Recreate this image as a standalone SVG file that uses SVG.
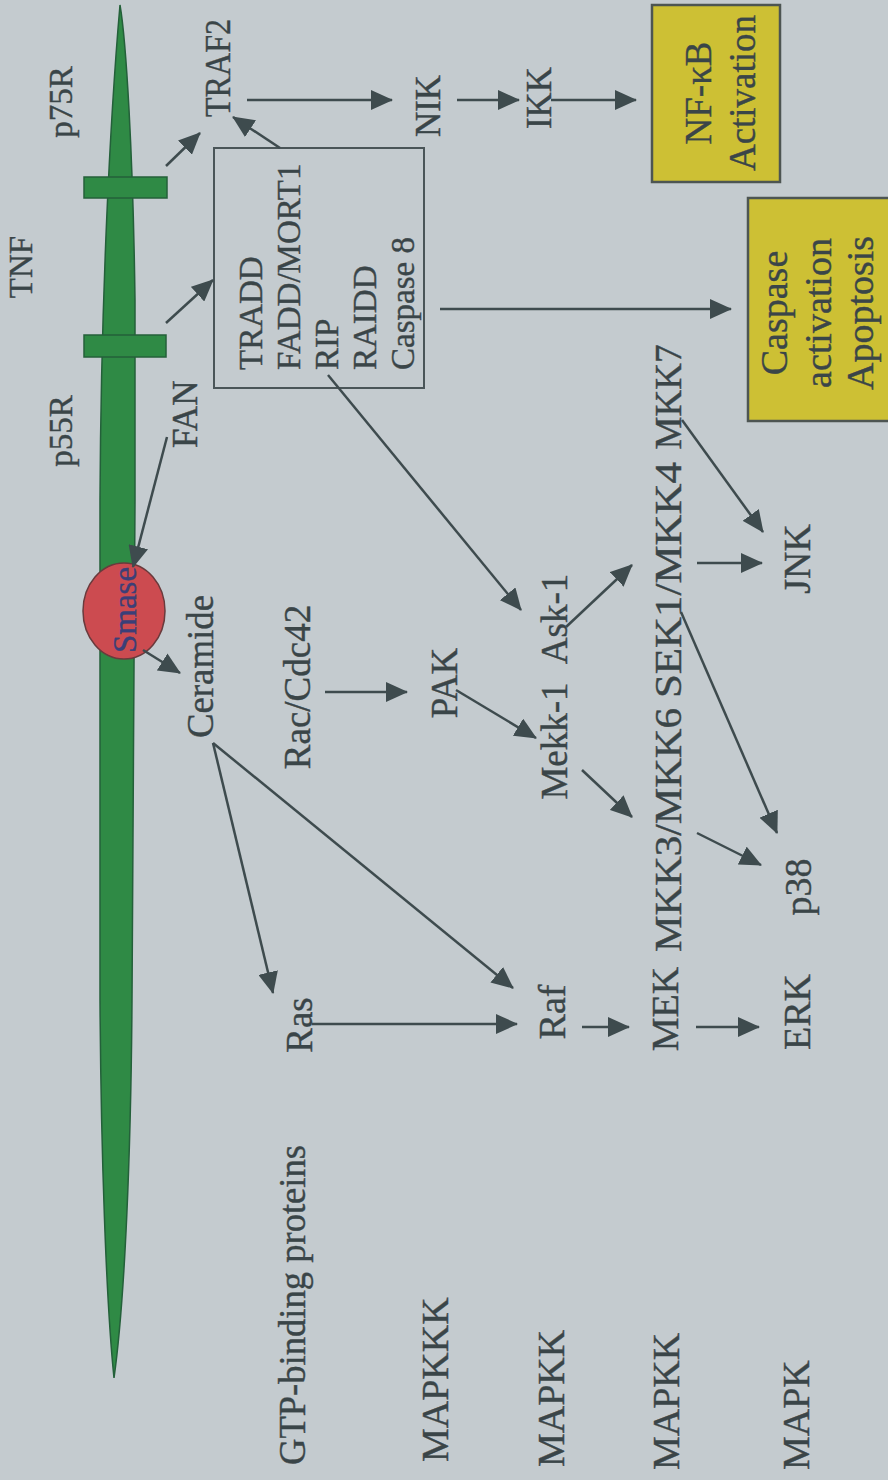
<svg xmlns="http://www.w3.org/2000/svg" width="888" height="1480" viewBox="0 0 888 1480">
<defs>
<style>
text{font-family:"Liberation Serif","Times New Roman",serif;fill:#3a4548;stroke:#3a4548;stroke-width:0.4;}
.s33{font-size:33px}.s35{font-size:35px}.s37{font-size:37px}.s38{font-size:38px}
.mem{fill:#2f8a45;stroke:#24603a;stroke-width:1.5}
.ln{stroke:#3e4b4e;stroke-width:2.5;fill:none;marker-end:url(#ah)}
.yb{fill:#cdc034;stroke:#4d5552;stroke-width:2.5}
</style>
<marker id="ah" viewBox="0 0 22 20" refX="21" refY="10" markerWidth="22" markerHeight="20" markerUnits="userSpaceOnUse" orient="auto">
<path d="M0,0 L22,10 L0,20 z" fill="#3e4b4e"/>
</marker>
</defs>
<rect width="888" height="1480" fill="#c4cbcf"/>
<g id="membrane">
<path class="mem" d="M120,5 C126,40 133,150 135,300 L135,500 L132,1000 C131,1150 125,1300 114,1378 C106,1300 101,1150 100,1000 L100,500 C101,300 110,120 120,5 Z"/>
<rect class="mem" x="84" y="177" width="83" height="21"/>
<rect class="mem" x="84" y="335" width="82" height="22"/>
</g>
<g id="labels-top">
<text class="s33" transform="translate(72,102) rotate(-90)" text-anchor="middle">p75R</text>
<text class="s33" transform="translate(32,267) rotate(-90)" text-anchor="middle">TNF</text>
<text class="s33" transform="translate(72,431) rotate(-90)" text-anchor="middle">p55R</text>
</g>
<g id="smase">
<ellipse cx="124" cy="611" rx="41" ry="48" fill="#cc4b50" stroke="#6a3a3c" stroke-width="1.5"/>
<text class="s33" transform="translate(136,610) rotate(-90)" text-anchor="middle" style="fill:#3b3f78;stroke:#3b3f78">Smase</text>
</g>
<g id="traf2"><text class="s35" transform="translate(230,68) rotate(-90)" text-anchor="middle" textLength="98" lengthAdjust="spacingAndGlyphs">TRAF2</text></g>
<g id="nik"><text class="s35" transform="translate(440,106) rotate(-90)" text-anchor="middle">NIK</text></g>
<g id="ikk"><text class="s35" transform="translate(551,98) rotate(-90)" text-anchor="middle">IKK</text></g>
<g id="nfkb">
<rect class="yb" x="652" y="5" width="128" height="177"/>
<text class="s37" transform="translate(711,93) rotate(-90)" text-anchor="middle">NF-κB</text>
<text class="s37" transform="translate(755,93) rotate(-90)" text-anchor="middle">Activation</text>
</g>
<g id="caspase">
<rect class="yb" x="748" y="198" width="150" height="223"/>
<text class="s38" transform="translate(787,313) rotate(-90)" text-anchor="middle">Caspase</text>
<text class="s38" transform="translate(831,313) rotate(-90)" text-anchor="middle">activation</text>
<text class="s38" transform="translate(873,313) rotate(-90)" text-anchor="middle">Apoptosis</text>
</g>
<g id="complex">
<rect x="214" y="148" width="210" height="240" fill="none" stroke="#4a5558" stroke-width="2"/>
<text class="s33" transform="translate(262,370) rotate(-90)">TRADD</text>
<text class="s33" transform="translate(300,370) rotate(-90)">FADD/MORT1</text>
<text class="s33" transform="translate(338,370) rotate(-90)">RIP</text>
<text class="s33" transform="translate(376,370) rotate(-90)">RAIDD</text>
<text class="s33" transform="translate(414,370) rotate(-90)">Caspase 8</text>
</g>
<g id="fan"><text class="s35" transform="translate(197,448) rotate(-90)">FAN</text></g>
<g id="ceramide"><text class="s37" transform="translate(213,738) rotate(-90)" textLength="143" lengthAdjust="spacingAndGlyphs">Ceramide</text></g>
<g id="rac"><text class="s37" transform="translate(310,687) rotate(-90)" text-anchor="middle">Rac/Cdc42</text></g>
<g id="pak"><text class="s37" transform="translate(457,683) rotate(-90)" text-anchor="middle">PAK</text></g>
<g id="mekk1"><text class="s37" transform="translate(567,741) rotate(-90)" text-anchor="middle">Mekk-1</text></g>
<g id="ask1"><text class="s37" transform="translate(567,619) rotate(-90)" text-anchor="middle">Ask-1</text></g>
<g id="mkk7"><text class="s37" transform="translate(681,397) rotate(-90)" text-anchor="middle">MKK7</text></g>
<g id="sek1"><text class="s37" transform="translate(681,580) rotate(-90)" text-anchor="middle" textLength="236" lengthAdjust="spacingAndGlyphs">SEK1/MKK4</text></g>
<g id="mkk36"><text class="s37" transform="translate(681,830) rotate(-90)" text-anchor="middle" textLength="244" lengthAdjust="spacingAndGlyphs">MKK3/MKK6</text></g>
<g id="jnk"><text class="s38" transform="translate(810,559) rotate(-90)" text-anchor="middle">JNK</text></g>
<g id="p38"><text class="s38" transform="translate(811,887) rotate(-90)" text-anchor="middle">p38</text></g>
<g id="ras"><text class="s37" transform="translate(312,1025) rotate(-90)" text-anchor="middle">Ras</text></g>
<g id="raf"><text class="s38" transform="translate(565,1012) rotate(-90)" text-anchor="middle">Raf</text></g>
<g id="mek"><text class="s38" transform="translate(678,1009) rotate(-90)" text-anchor="middle">MEK</text></g>
<g id="erk"><text class="s38" transform="translate(810,1012) rotate(-90)" text-anchor="middle">ERK</text></g>
<g id="row-labels">
<text class="s37" transform="translate(305,1465) rotate(-90)" textLength="320" lengthAdjust="spacingAndGlyphs">GTP-binding proteins</text>
<text class="s38" transform="translate(448,1462) rotate(-90)">MAPKKK</text>
<text class="s38" transform="translate(564,1467) rotate(-90)">MAPKK</text>
<text class="s38" transform="translate(679,1470) rotate(-90)">MAPKK</text>
<text class="s38" transform="translate(809,1470) rotate(-90)">MAPK</text>
</g>
<g id="connectors">
<line class="ln" x1="166" y1="166" x2="200" y2="133"/>
<line class="ln" x1="166" y1="323" x2="213" y2="280"/>
<line class="ln" x1="280" y1="148" x2="233" y2="117"/>
<line class="ln" x1="247" y1="100" x2="392" y2="100"/>
<line class="ln" x1="457" y1="100" x2="519" y2="100"/>
<line class="ln" x1="551" y1="100" x2="636" y2="100"/>
<line class="ln" x1="440" y1="309" x2="731" y2="309"/>
<line class="ln" x1="167" y1="437" x2="133" y2="567"/>
<line class="ln" x1="143" y1="650" x2="180" y2="673"/>
<line class="ln" x1="213" y1="743" x2="273" y2="993"/>
<line class="ln" x1="213" y1="743" x2="513" y2="988"/>
<line class="ln" x1="312" y1="1024" x2="517" y2="1024"/>
<line class="ln" x1="582" y1="1027" x2="629" y2="1027"/>
<line class="ln" x1="696" y1="1027" x2="759" y2="1027"/>
<line class="ln" x1="325" y1="692" x2="407" y2="692"/>
<line class="ln" x1="456" y1="690" x2="536" y2="738"/>
<line class="ln" x1="328" y1="375" x2="521" y2="610"/>
<line class="ln" x1="566" y1="627" x2="632" y2="565"/>
<line class="ln" x1="582" y1="770" x2="632" y2="817"/>
<line class="ln" x1="697" y1="833" x2="761" y2="865"/>
<line class="ln" x1="681" y1="612" x2="777" y2="833"/>
<line class="ln" x1="697" y1="563" x2="762" y2="563"/>
<line class="ln" x1="682" y1="420" x2="763" y2="532"/>
</g>
</svg>
